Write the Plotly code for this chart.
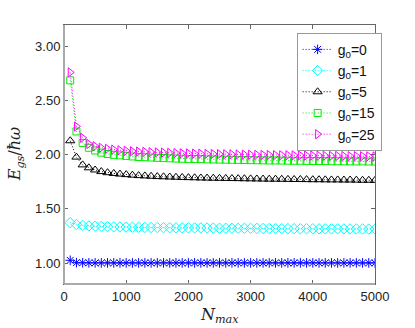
import plotly.graph_objects as go

n_max = [100, 200, 300, 400, 500, 600, 700, 800, 900, 1000,
         1100, 1200, 1300, 1400, 1500, 1600, 1700, 1800, 1900, 2000,
         2100, 2200, 2300, 2400, 2500, 2600, 2700, 2800, 2900, 3000,
         3100, 3200, 3300, 3400, 3500, 3600, 3700, 3800, 3900, 4000,
         4100, 4200, 4300, 4400, 4500, 4600, 4700, 4800, 4900, 5000]

e_g0 = [1.025, 1.003, 1.002, 1.002, 1.001, 1.001, 1.001, 1.001, 1.001, 1.001,
        1.001, 1.001, 1.001, 1.001, 1.001, 1.001, 1.001, 1.001, 1.001, 1.001,
        1.001, 1.001, 1.001, 1.001, 1.001, 1.001, 1.001, 1.001, 1.001, 1.001,
        1.001, 1.001, 1.001, 1.001, 1.001, 1.001, 1.001, 1.001, 1.001, 1.001,
        1.001, 1.001, 1.001, 1.001, 1.001, 1.001, 1.001, 1.001, 1.001, 1.001]

e_g1 = [1.373, 1.355, 1.348, 1.343, 1.340, 1.338, 1.336, 1.334, 1.333, 1.332,
        1.331, 1.330, 1.329, 1.328, 1.328, 1.327, 1.326, 1.326, 1.325, 1.325,
        1.324, 1.324, 1.323, 1.323, 1.322, 1.322, 1.321, 1.321, 1.321, 1.320,
        1.320, 1.319, 1.319, 1.319, 1.318, 1.318, 1.318, 1.317, 1.317, 1.317,
        1.316, 1.316, 1.316, 1.316, 1.315, 1.315, 1.315, 1.315, 1.314, 1.314]

e_g5 = [2.130, 1.979, 1.907, 1.880, 1.860, 1.845, 1.835, 1.828, 1.822, 1.817,
        1.812, 1.808, 1.805, 1.802, 1.799, 1.797, 1.795, 1.793, 1.791, 1.789,
        1.788, 1.786, 1.785, 1.784, 1.783, 1.782, 1.781, 1.780, 1.779, 1.778,
        1.777, 1.776, 1.775, 1.775, 1.774, 1.773, 1.772, 1.772, 1.771, 1.770,
        1.770, 1.769, 1.768, 1.768, 1.767, 1.767, 1.766, 1.765, 1.765, 1.764]

e_g15 = [2.688, 2.216, 2.110, 2.065, 2.040, 2.020, 2.008, 2.000, 1.995, 1.990,
         1.985, 1.980, 1.978, 1.975, 1.972, 1.970, 1.968, 1.966, 1.964, 1.962,
         1.961, 1.960, 1.958, 1.957, 1.956, 1.955, 1.954, 1.953, 1.952, 1.951,
         1.950, 1.949, 1.948, 1.948, 1.947, 1.946, 1.945, 1.945, 1.944, 1.943,
         1.943, 1.942, 1.941, 1.941, 1.940, 1.940, 1.939, 1.939, 1.938, 1.938]

e_g25 = [2.762, 2.262, 2.157, 2.100, 2.080, 2.065, 2.055, 2.048, 2.042, 2.037,
         2.033, 2.030, 2.027, 2.024, 2.022, 2.020, 2.018, 2.016, 2.014, 2.013,
         2.011, 2.010, 2.009, 2.008, 2.006, 2.005, 2.004, 2.003, 2.002, 2.001,
         2.000, 1.999, 1.998, 1.997, 1.996, 1.996, 1.995, 1.994, 1.993, 1.993,
         1.992, 1.991, 1.990, 1.990, 1.989, 1.988, 1.988, 1.987, 1.986, 1.985]

series_names = ["g<sub>0</sub>=0", "g<sub>0</sub>=1", "g<sub>0</sub>=5",
                "g<sub>0</sub>=15", "g<sub>0</sub>=25"]
series_values = [e_g0, e_g1, e_g5, e_g15, e_g25]
colors = ["#0000ff", "#00ffff", "#000000", "#00ee00", "#ff00ff"]
symbols = ["asterisk-open", "diamond-open", "triangle-up-open",
           "square-open", "triangle-right-open"]
sizes = [8, 8, 8, 7, 8]

y_ticks = [1.0, 1.5, 2.0, 2.5, 3.0]
x_ticks = [0, 1000, 2000, 3000, 4000, 5000]

fig = go.Figure()
for name, vals, c, s, sz in zip(series_names, series_values, colors, symbols, sizes):
    fig.add_trace(go.Scatter(
        x=n_max, y=vals, name=name, mode="lines+markers",
        line=dict(color=c, width=1, dash="1px,2px"),
        marker=dict(symbol=s, size=sz, color=c, line=dict(color=c, width=1)),
    ))

fig.update_layout(
    width=415, height=328,
    margin=dict(l=64, r=40, t=25, b=44, autoexpand=False),
    paper_bgcolor="white", plot_bgcolor="white",
    font=dict(family="Liberation Sans, Arial, sans-serif", size=13, color="#222"),
    showlegend=True,
    legend=dict(
        x=0.748, y=0.97, xanchor="left", yanchor="top",
        bgcolor="white", bordercolor="#999", borderwidth=1,
        font=dict(family="Liberation Sans, Arial, sans-serif", size=14, color="#111"),
        itemwidth=30, tracegroupgap=0,
    ),
)
fig.update_xaxes(
    range=[0, 5000], tickvals=x_ticks, ticktext=[str(v) for v in x_ticks],
    showgrid=False, zeroline=False, automargin=False,
    showline=True, linecolor="#666", linewidth=1, mirror="ticks",
    ticks="inside", ticklen=4, tickcolor="#666",
)
fig.update_yaxes(
    range=[0.806, 3.2], tickvals=y_ticks, tickformat=".2f",
    showgrid=False, zeroline=False, automargin=False,
    showline=True, linecolor="#666", linewidth=1, mirror="ticks",
    ticks="inside", ticklen=4, tickcolor="#666",
)
fig.add_shape(type="line", xref="paper", yref="paper", x0=0, x1=0, y0=0, y1=1,
              line=dict(color="#aaa", width=2))
fig.add_shape(type="line", xref="paper", yref="paper", x0=0, x1=1, y0=0, y1=0,
              line=dict(color="#aaa", width=2))

title_font = dict(family="DejaVu Serif, serif", size=16, color="#222")
fig.add_annotation(text="<i>N<sub>max</sub></i>", xref="paper", yref="paper",
                   x=0.5, y=-0.12, xanchor="center", yanchor="middle",
                   showarrow=False, font=title_font)
fig.add_annotation(text="<i>E<sub>gs</sub></i>/<i>ħω</i>", xref="paper", yref="paper",
                   x=-0.155, y=0.5, xanchor="center", yanchor="middle",
                   textangle=-90, showarrow=False, font=title_font)

fig.write_html("out.html", config={"displayModeBar": False},
               post_script="document.body.style.margin='0';document.body.style.padding='0';")
